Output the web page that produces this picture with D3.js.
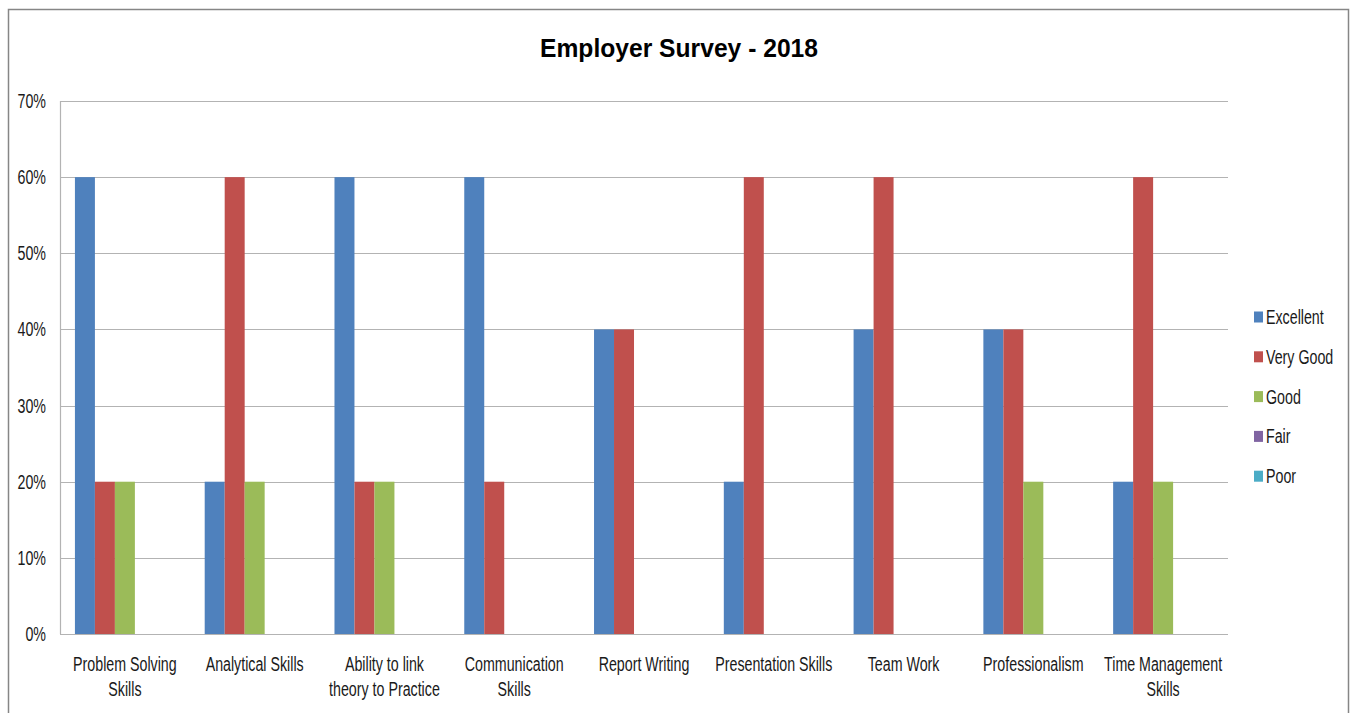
<!DOCTYPE html>
<html>
<head>
<meta charset="utf-8">
<script src="https://cdn.jsdelivr.net/npm/d3@7"></script>
<style>
  body { margin: 0; background: #fff; }
  text { font-family: "Liberation Sans", Arial, sans-serif; fill: #1a1a1a; }
</style>
</head>
<body>
<svg id="chart"></svg>
<script>
// Survey data (percentages)
var categories = ["Problem Solving Skills", "Analytical Skills", "Ability to link theory to Practice",
  "Communication Skills", "Report Writing", "Presentation Skills", "Team Work",
  "Professionalism", "Time Management Skills"];
var seriesNames = ["Excellent", "Very Good", "Good", "Fair", "Poor"];
var excellent = [60, 20, 60, 60, 40, 20, 40, 40, 20];
var veryGood  = [20, 60, 20, 20, 40, 60, 60, 40, 60];
var good      = [20, 20, 20, 0, 0, 0, 0, 20, 20];
var fair      = [0, 0, 0, 0, 0, 0, 0, 0, 0];
var poor      = [0, 0, 0, 0, 0, 0, 0, 0, 0];
var yTicks = [0, 10, 20, 30, 40, 50, 60, 70];
var colors = ["#4F81BD", "#C0504D", "#9BBB59", "#8064A2", "#4BACC6"];

var seriesValues = [excellent, veryGood, good, fair, poor];

var width = 1354, height = 713;
var plot = { left: 60, right: 1228, top: 101, bottom: 634 };
var squeeze = 0.73;   // narrow the text horizontally, like the original font
var fontSize = "19.5px";

var svg = d3.select("#chart")
  .attr("width", width)
  .attr("height", height);

// outer chart frame
svg.append("rect")
  .attr("x", 8.5).attr("y", 9.5)
  .attr("width", 1340).attr("height", 720)
  .attr("fill", "#fff")
  .attr("stroke", "#868686")
  .attr("stroke-width", 1.5);

// place a text at x,y, squeezed horizontally
function label(parent, x, y, str, anchor, sx) {
  return parent.append("text")
    .attr("transform", "translate(" + x + "," + y + ")scale(" + sx + ",1)")
    .attr("text-anchor", anchor)
    .style("font-size", fontSize)
    .text(str);
}

// scales
var x0 = d3.scaleBand()
  .domain(categories)
  .range([plot.left, plot.right])
  .paddingInner(0.23)
  .paddingOuter(0.115);

var x1 = d3.scaleBand()
  .domain(seriesNames)
  .range([0, x0.bandwidth()]);

var y = d3.scaleLinear()
  .domain([0, 70])
  .range([plot.bottom, plot.top]);

// gridlines
svg.append("g")
  .selectAll("line")
  .data(yTicks)
  .enter().append("line")
  .attr("x1", plot.left)
  .attr("x2", plot.right)
  .attr("y1", function(d) { return Math.round(y(d)) + 0.5; })
  .attr("y2", function(d) { return Math.round(y(d)) + 0.5; })
  .attr("stroke", "#b3b3b3")
  .attr("stroke-width", 1.2);

// y axis line
svg.append("line")
  .attr("x1", plot.left + 0.5).attr("x2", plot.left + 0.5)
  .attr("y1", plot.top).attr("y2", plot.bottom)
  .attr("stroke", "#b3b3b3")
  .attr("stroke-width", 1.2);

// y tick labels
var yAxisG = svg.append("g");
yTicks.forEach(function(d) {
  label(yAxisG, 46, y(d) + 7, d + "%", "end", squeeze);
});

// bars
var groups = svg.append("g")
  .selectAll("g")
  .data(categories)
  .enter().append("g")
  .attr("transform", function(d) { return "translate(" + x0(d) + ",0)"; });

groups.selectAll("rect")
  .data(function(d, i) {
    return seriesNames.map(function(s, j) { return { series: s, value: seriesValues[j][i], color: colors[j] }; });
  })
  .enter().append("rect")
  .attr("x", function(d) { return x1(d.series); })
  .attr("width", x1.bandwidth())
  .attr("y", function(d) { return y(d.value); })
  .attr("height", function(d) { return y(0) - y(d.value); })
  .attr("fill", function(d) { return d.color; });

// redraw baseline over bars
svg.append("line")
  .attr("x1", plot.left).attr("x2", plot.right)
  .attr("y1", Math.round(y(0)) + 0.5).attr("y2", Math.round(y(0)) + 0.5)
  .attr("stroke", "#b3b3b3")
  .attr("stroke-width", 1.2);

// x labels, centred in each category slot
var step = x0.step();
var xAxisG = svg.append("g");
categories.forEach(function(c) {
  var cx = x0(c) - step * x0.paddingOuter() + step / 2;
  var t = label(xAxisG, cx, 671, c, "middle", squeeze);
  wrap(t, 120 / squeeze);
});

// title
svg.append("text")
  .attr("transform", "translate(679,57)scale(0.93,1)")
  .attr("text-anchor", "middle")
  .style("font-size", "26.5px")
  .style("font-weight", "bold")
  .style("fill", "#000")
  .text("Employer Survey - 2018");

// legend
var legend = svg.append("g")
  .selectAll("g")
  .data(seriesNames)
  .enter().append("g")
  .attr("transform", function(d, i) { return "translate(1254," + (317 + i * 39.8) + ")"; });

legend.append("rect")
  .attr("x", 0).attr("y", -5.5)
  .attr("width", 9).attr("height", 11)
  .attr("fill", function(d, i) { return colors[i]; });

legend.each(function(d) {
  label(d3.select(this), 12, 7, d, "start", squeeze);
});

// wrap long category labels onto two lines
function wrap(text, maxWidth) {
  text.each(function() {
    var t = d3.select(this),
        words = t.text().split(/\s+/).reverse(),
        word,
        line = [],
        lineNumber = 0,
        tspan = t.text(null).append("tspan").attr("x", 0).attr("dy", "0px");
    while (word = words.pop()) {
      line.push(word);
      tspan.text(line.join(" "));
      if (tspan.node().getComputedTextLength() > maxWidth && line.length > 1) {
        line.pop();
        tspan.text(line.join(" "));
        line = [word];
        ++lineNumber;
        tspan = t.append("tspan").attr("x", 0).attr("dy", "25px").text(word);
      }
    }
  });
}
</script>
</body>
</html>
